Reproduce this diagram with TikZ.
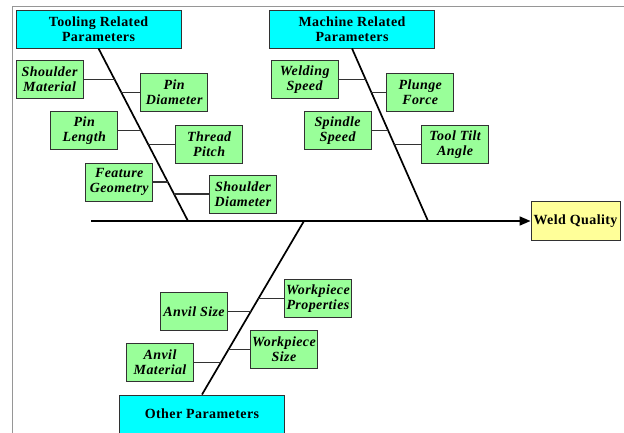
\documentclass[tikz,border=0pt]{standalone}
\usepackage{fontspec}
\setmainfont{Liberation Serif}[LetterSpace=3]
\usetikzlibrary{arrows.meta,positioning,calc}
\definecolor{headCyan}{RGB}{0,255,255}
\definecolor{causeGreen}{RGB}{153,255,153}
\definecolor{effectYellow}{RGB}{255,255,153}
\definecolor{boxEdge}{RGB}{50,50,50}
\definecolor{pageRule}{RGB}{150,150,150}
\tikzset{
    headbox/.style={draw=boxEdge, fill=headCyan, line width=0.9pt, minimum width=165pt, minimum height=38pt, inner sep=0pt, align=center, font=\fontsize{14pt}{15pt}\selectfont\bfseries},
    causebox/.style={draw=boxEdge, fill=causeGreen, line width=0.9pt, minimum width=67pt, minimum height=38pt, inner sep=0pt, align=center, font=\fontsize{14pt}{15pt}\selectfont\bfseries\itshape},
    bone/.style={line width=1.7pt, black},
    twig/.style={line width=1.4pt, boxEdge}
}

\begin{document}
\begin{tikzpicture}[x=1pt,y=-1pt]
    \useasboundingbox (0,0) rectangle (624,433);
    \draw[pageRule, line width=1pt] (12,433) -- (12,6.5) -- (624,6.5);

    \node[headbox] (tooling) at (98.5,29) {Tooling Related\\Parameters};
    \node[headbox] (machine) at (352,29) {Machine Related\\Parameters};
    \node[headbox] (other) at (202,414) {Other Parameters};
    \node[draw=boxEdge, fill=effectYellow, line width=0.9pt, minimum width=89pt, minimum height=39pt, inner sep=0pt, font=\fontsize{14pt}{15pt}\selectfont\bfseries] (quality) at (575.5,221) {Weld Quality};

    \coordinate (tail) at (91,221);
    \coordinate (jtool) at (188,221);
    \coordinate (jmach) at (428,221);
    \coordinate (jother) at (304,221);

    \draw[bone, -{Triangle[length=11pt,width=9pt]}] (tail) -- (quality);
    \draw[bone] (tooling.south) -- (jtool);
    \draw[bone] (machine.south) -- (jmach);
    \draw[bone] (other.north) -- (jother);

    % points on the bones
    \path (tooling.south) -- (jtool)
        coordinate[pos=0.179] (t1) coordinate[pos=0.254] (t2)
        coordinate[pos=0.474] (t3) coordinate[pos=0.555] (t4)
        coordinate[pos=0.775] (t5) coordinate[pos=0.844] (t6);
    \path (machine.south) -- (jmach)
        coordinate[pos=0.179] (m1) coordinate[pos=0.254] (m2)
        coordinate[pos=0.474] (m3) coordinate[pos=0.555] (m4);
    \path (other.north) -- (jother)
        coordinate[pos=0.552] (o1) coordinate[pos=0.477] (o2)
        coordinate[pos=0.259] (o3) coordinate[pos=0.184] (o4);

    \node[causebox, left=31pt of t1] (shmat) {Shoulder\\Material};
    \node[causebox, right=19pt of t2] (pindia) {Pin\\Diameter};
    \node[causebox, left=22.7pt of t3] (pinlen) {Pin\\Length};
    \node[causebox, right=27pt of t4] (pitch) {Thread\\Pitch};
    \node[causebox, left=14.7pt of t5] (feature) {Feature\\Geometry};
    \node[causebox, right=35pt of t6] (shdia) {Shoulder\\Diameter};

    \node[causebox, left=27pt of m1] (wspeed) {Welding\\Speed};
    \node[causebox, right=15pt of m2] (plunge) {Plunge\\Force};
    \node[causebox, left=16.5pt of m3] (sspeed) {Spindle\\Speed};
    \node[causebox, right=27pt of m4] (tilt) {Tool Tilt\\Angle};

    \node[causebox, right=25.7pt of o1] (wprop) {Workpiece\\Properties};
    \node[causebox, left=22.7pt of o2] (anvsize) {Anvil Size};
    \node[causebox, right=21.6pt of o3] (wsize) {Workpiece\\Size};
    \node[causebox, left=26.8pt of o4] (anvmat) {Anvil\\Material};

    \foreach \cause/\spot in {shmat/t1, pindia/t2, pinlen/t3, pitch/t4, feature/t5, shdia/t6,
                          wspeed/m1, plunge/m2, sspeed/m3, tilt/m4,
                          wprop/o1, anvsize/o2, wsize/o3, anvmat/o4}
        \draw[twig] (\cause) -- (\spot);
\end{tikzpicture}
\end{document}
